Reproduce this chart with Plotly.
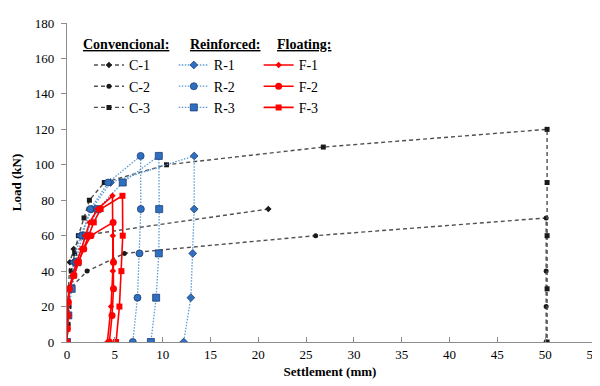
import plotly.graph_objects as go

# ---- data (settlement mm, load kN) ----
c1_x = [0, 0.05, 0.15, 0.3, 0.7, 1.5, 21.05]
c1_y = [0, 15, 30, 45, 52.5, 60, 75]
c2_x = [0, 0.1, 0.2, 0.3, 2.1, 6.0, 26.0, 50.1, 50.1, 50.1, 50.1]
c2_y = [0, 10, 20, 30, 40, 50, 60, 70, 40, 20, 0]
c3_x = [0, 0.1, 0.2, 0.3, 0.45, 0.8, 1.19, 1.78, 2.34, 3.9, 10.4, 26.8, 50.2, 50.2, 50.2, 50.2, 50.2]
c3_y = [0, 10, 20, 30, 40, 50, 60, 70, 80, 90, 100, 110, 120, 90, 60, 30, 0]

r1_x = [0, 0.1, 0.3, 0.7, 1.4, 2.6, 4.55, 13.3, 13.3, 13.15, 12.95, 12.2]
r1_y = [0, 15, 30, 45, 60, 75, 90, 105, 75, 50, 25, 0]
r2_x = [0, 0.1, 0.4, 0.9, 1.6, 2.44, 4.3, 7.7, 7.72, 7.58, 7.37, 6.88]
r2_y = [0, 15, 30, 45, 60, 75, 90, 105, 75, 50, 25, 0]
r3_x = [0, 0.14, 0.49, 1.1, 1.96, 3.2, 5.83, 9.6, 9.64, 9.6, 9.32, 8.77]
r3_y = [0, 15, 30, 45, 60, 75, 90, 105, 75, 50, 25, 0]

f1_x = [0, 0.02, 0.05, 0.1, 0.2, 0.6, 1.0, 1.5, 1.9, 2.37, 3.2, 4.75, 4.79, 4.79, 4.61, 4.22]
f1_y = [0, 7.5, 15, 22.5, 30, 37.5, 45, 52.5, 60, 67.5, 75, 82.5, 60, 40, 20, 0]
f2_x = [0, 0.04, 0.08, 0.14, 0.25, 0.7, 1.19, 1.75, 2.51, 4.82, 4.86, 4.86, 4.71, 4.43]
f2_y = [0, 7.5, 15, 22.5, 30, 37.5, 45, 52.5, 60, 67.5, 45, 30, 15, 0]
f3_x = [0, 0.03, 0.07, 0.12, 0.22, 0.75, 1.19, 1.71, 2.2, 2.8, 3.52, 5.8, 5.83, 5.69, 5.48, 5.13]
f3_y = [0, 7.5, 15, 22.5, 30, 37.5, 45, 52.5, 60, 67.5, 75, 82.5, 60, 40, 20, 0]

x_ticks = list(range(0, 56, 5))
y_ticks = list(range(0, 181, 20))

FONT = "'Liberation Serif', 'Times New Roman', Times, serif"
C_LINE = "#505050"
C_MK = "#1a1a1a"
R_LINE = "#5B9BD5"
R_MK = "#2E6FBF"
R_EDGE = "#1F3E75"
F_COL = "#FF0000"

fig = go.Figure()

def add(x, y, name, legend, dash, lcolor, lwidth, symbol, msize, mcolor, ecolor, ew):
    fig.add_trace(go.Scatter(
        x=x, y=y, name=name, mode="lines+markers", legend=legend,
        line=dict(color=lcolor, width=lwidth, dash=dash),
        marker=dict(symbol=symbol, size=msize, color=mcolor,
                    line=dict(color=ecolor, width=ew)),
    ))

CD = "4px,3px"
RD = "1.5px,1.5px"
add(c1_x, c1_y, "C-1", "legend", CD, C_LINE, 1.4, "diamond", 5, C_MK, C_MK, 0)
add(c2_x, c2_y, "C-2", "legend", CD, C_LINE, 1.4, "circle", 5, C_MK, C_MK, 0)
add(c3_x, c3_y, "C-3", "legend", CD, C_LINE, 1.4, "square", 5, C_MK, C_MK, 0)
add(r1_x, r1_y, "R-1", "legend2", RD, R_LINE, 1.3, "diamond", 6, R_MK, R_EDGE, 0.8)
add(r2_x, r2_y, "R-2", "legend2", RD, R_LINE, 1.3, "circle", 7, R_MK, R_EDGE, 0.8)
add(r3_x, r3_y, "R-3", "legend2", RD, R_LINE, 1.3, "square", 7, R_MK, R_EDGE, 0.8)
add(f1_x, f1_y, "F-1", "legend3", "solid", F_COL, 1.6, "diamond", 5, F_COL, F_COL, 0)
add(f2_x, f2_y, "F-2", "legend3", "solid", F_COL, 1.6, "circle", 7, F_COL, F_COL, 0)
add(f3_x, f3_y, "F-3", "legend3", "solid", F_COL, 1.6, "square", 6, F_COL, F_COL, 0)

# page body has an 8px offset; margins compensate so the plot lands where the reference has it
OFF = 8
L, R, T, B = 67 - OFF, 6 + OFF, 16 - OFF, 44 + OFF
W, H = 600, 386
PW, PH = W - L - R, H - T - B

def px(xp):
    return (xp - OFF - L) / PW

def py(yp):
    return (H - B - (yp - OFF)) / PH

leg_common = dict(font=dict(family=FONT, size=14, color="black"),
                  bgcolor="rgba(0,0,0,0)", borderwidth=0,
                  xanchor="left", yanchor="top", tracegroupgap=0, itemwidth=30)

fig.update_layout(
    width=W, height=H,
    margin=dict(l=L, r=R, t=T, b=B),
    paper_bgcolor="white", plot_bgcolor="white",
    font=dict(family=FONT, size=13, color="black"),
    legend=dict(x=px(89), y=py(43), **leg_common),
    legend2=dict(x=px(174), y=py(43), **leg_common),
    legend3=dict(x=px(259), y=py(43), **leg_common),
    xaxis=dict(range=[0, 55], tickvals=x_ticks, ticktext=[str(v) for v in x_ticks],
               showgrid=False, zeroline=False, showline=True, linecolor="#8c8c8c",
               linewidth=1.3, ticks="inside", ticklen=5, tickcolor="#8c8c8c",
               tickfont=dict(family=FONT, size=13, color="black"),
               title=dict(text="<b>Settlement (mm)</b>", font=dict(family=FONT, size=13), standoff=6)),
    yaxis=dict(range=[0, 180], tickvals=y_ticks, ticktext=[str(v) for v in y_ticks],
               showgrid=False, zeroline=False, showline=True, linecolor="#8c8c8c",
               linewidth=1.3, ticks="outside", ticklen=5, tickcolor="#8c8c8c",
               ticklabelstandoff=4,
               tickfont=dict(family=FONT, size=13, color="black"),
               title=dict(text="<b>Load (kN)</b>", font=dict(family=FONT, size=13), standoff=10)),
    showlegend=True,
)

for txt, xp in [("Convencional:", 81.5), ("Reinforced:", 188), ("Floating:", 275)]:
    fig.add_annotation(text="<b><u>" + txt + "</u></b>", xref="paper", yref="paper",
                       x=px(xp), y=py(38), xanchor="left", yanchor="middle",
                       showarrow=False, font=dict(family=FONT, size=14, color="black"))

fig.add_shape(type="line", xref="paper", yref="paper", x0=1, x1=1, y0=0, y1=1,
              line=dict(color="#8c8c8c", width=1.3))

fig.write_html("out.html")
